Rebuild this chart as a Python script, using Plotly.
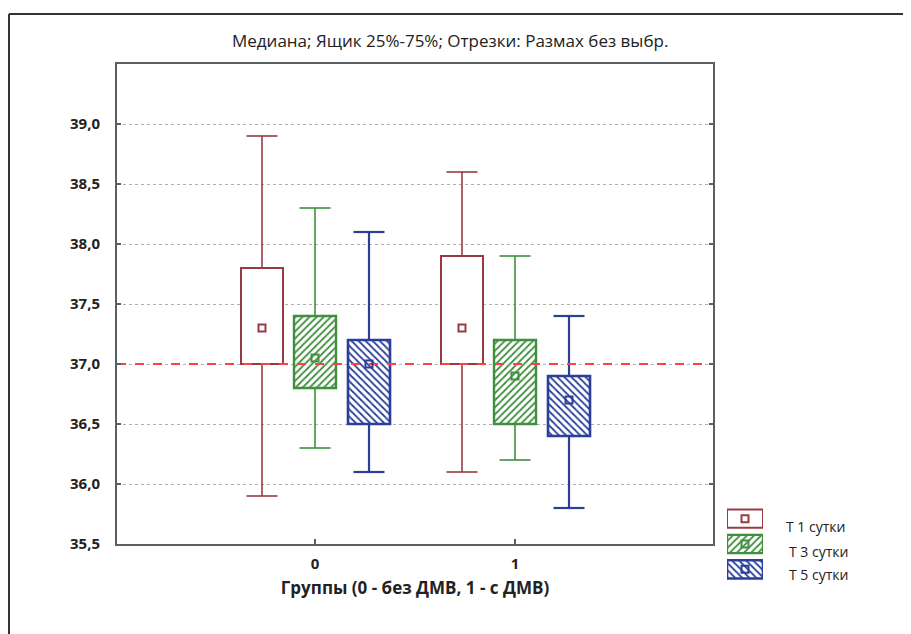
import plotly.graph_objects as go

# ---- data ----
groups = [0, 1]
series_names = ["T 1 сутки", "T 3 сутки", "T 5 сутки"]
# per series: values for group 0 and group 1
whisker_low = {"T 1 сутки": [35.9, 36.1], "T 3 сутки": [36.3, 36.2], "T 5 сутки": [36.1, 35.8]}
q1 = {"T 1 сутки": [37.0, 37.0], "T 3 сутки": [36.8, 36.5], "T 5 сутки": [36.5, 36.4]}
median = {"T 1 сутки": [37.3, 37.3], "T 3 сутки": [37.05, 36.9], "T 5 сутки": [37.0, 36.7]}
q3 = {"T 1 сутки": [37.8, 37.9], "T 3 сутки": [37.4, 37.2], "T 5 сутки": [37.2, 36.9]}
whisker_high = {"T 1 сутки": [38.9, 38.6], "T 3 сутки": [38.3, 37.9], "T 5 сутки": [38.1, 37.4]}
ref_value = 37.0
y_ticks = [35.5, 36.0, 36.5, 37.0, 37.5, 38.0, 38.5, 39.0]
y_tick_labels = ["35,5", "36,0", "36,5", "37,0", "37,5", "38,0", "38,5", "39,0"]

# ---- styles ----
colors = {"T 1 сутки": "#983b45", "T 3 сутки": "#3f8f3f", "T 5 сутки": "#2b3f98"}
patterns = {"T 1 сутки": "", "T 3 сутки": "/", "T 5 сутки": "\\"}
offsets = {"T 1 сутки": -0.265, "T 3 сутки": 0.0, "T 5 сутки": 0.27}
whisk_w = {"T 1 сутки": 1.6, "T 3 сутки": 1.6, "T 5 сутки": 2.2}
box_lw = {"T 1 сутки": 2.0, "T 3 сутки": 2.4, "T 5 сутки": 2.6}
box_w = 0.21
cap_w = 0.155
FONT = "Open Sans"

# page geometry (browser body margin = 8px)
OFF = 8
PL, PR, PT, PB = 117, 900, 64, 620          # paper extents in screenshot pixels
L, R, T, B = PL - OFF, 911 - (PR - OFF), PT - OFF, 634 - (PB - OFF)
PW, PH = PR - PL, PB - PT


def px_x(px):
    return (px - PL) / PW


def px_y(py):
    return (PB - py) / PH


fig = go.Figure()

for name in series_names:
    xs = [g + offsets[name] for g in groups]
    c = colors[name]
    wx, wy = [], []
    for i, x in enumerate(xs):
        wx += [x, x, None, x, x, None,
               x - cap_w / 2, x + cap_w / 2, None, x - cap_w / 2, x + cap_w / 2, None]
        wy += [whisker_low[name][i], q1[name][i], None, q3[name][i], whisker_high[name][i], None,
               whisker_low[name][i], whisker_low[name][i], None,
               whisker_high[name][i], whisker_high[name][i], None]
    fig.add_trace(go.Scatter(x=wx, y=wy, mode="lines", line=dict(color=c, width=whisk_w[name]),
                             showlegend=False, hoverinfo="skip"))
    heights = [q3[name][i] - q1[name][i] for i in range(len(groups))]
    fig.add_trace(go.Bar(
        x=xs, y=heights, base=q1[name], width=box_w, name=name, showlegend=False,
        marker=dict(color="white", line=dict(color=c, width=box_lw[name]),
                    pattern=dict(shape=patterns[name], fgcolor=c, bgcolor="white",
                                 size=5, solidity=0.35, fillmode="replace")),
    ))

fig.add_trace(go.Scatter(x=[-0.99, 1.99], y=[ref_value, ref_value], mode="lines",
                         line=dict(color="#ff4040", width=1.8, dash="dash"),
                         showlegend=False, hoverinfo="skip"))

for name in series_names:
    xs = [g + offsets[name] for g in groups]
    fig.add_trace(go.Scatter(x=xs, y=median[name], mode="markers",
                             marker=dict(symbol="square-open", size=7, color=colors[name],
                                         line=dict(width=2, color=colors[name])),
                             showlegend=False, hoverinfo="skip"))

# ---- legend keys drawn in a small second subplot ----
for i, name in enumerate(series_names):
    c = colors[name]
    fig.add_trace(go.Bar(
        x=[1], y=[i], base=[0], orientation="h", width=0.72, xaxis="x2", yaxis="y2",
        showlegend=False, hoverinfo="skip",
        marker=dict(color="white", line=dict(color=c, width=box_lw[name]),
                    pattern=dict(shape=patterns[name], fgcolor=c, bgcolor="white",
                                 size=5, solidity=0.35, fillmode="replace")),
    ))
    fig.add_trace(go.Scatter(
        x=[0.5], y=[i], mode="markers", xaxis="x2", yaxis="y2", showlegend=False,
        hoverinfo="skip",
        marker=dict(symbol="square-open", size=7, color=c, line=dict(width=2, color=c))))

legend_text_x = [784, 787, 787]
legend_text_y = [526, 551, 574]

annotations = [dict(text="Медиана; Ящик 25%-75%; Отрезки: Размах без выбр.",
                    xref="paper", yref="paper", x=px_x(450), y=px_y(40),
                    xanchor="center", yanchor="middle", showarrow=False,
                    font=dict(family=FONT, size=17, color="#222222"))]
for i, name in enumerate(series_names):
    annotations.append(dict(text=name, xref="paper", yref="paper",
                            x=px_x(legend_text_x[i]), y=px_y(legend_text_y[i]),
                            xanchor="left", yanchor="middle", showarrow=False,
                            font=dict(family=FONT, size=14, color="#222222")))

axis_col = "#5a5f62"
fig.update_layout(
    width=911, height=634,
    margin=dict(l=L, r=R, t=T, b=B, autoexpand=False),
    paper_bgcolor="white", plot_bgcolor="white",
    barmode="overlay",
    font=dict(family=FONT, color="#222222"),
    showlegend=False,
    xaxis=dict(domain=[0, px_x(713)], range=[-0.99, 1.99], tickvals=groups, ticktext=["0", "1"],
               showgrid=False, zeroline=False,
               showline=True, linecolor=axis_col, linewidth=2, mirror=True,
               ticks="inside", ticklen=5, tickwidth=2, tickcolor=axis_col,
               ticklabelstandoff=5,
               tickfont=dict(family=FONT, size=15, color="#222222", weight="bold"),
               title=dict(text="Группы (0 - без ДМВ, 1 - с ДМВ)",
                          font=dict(family=FONT, size=17, color="#222222", weight="bold"),
                          standoff=10)),
    yaxis=dict(domain=[px_y(544), 1], range=[35.5, 39.5], tickvals=y_ticks, ticktext=y_tick_labels,
               showgrid=True, gridcolor="#b0b0b0", griddash="dot", gridwidth=1,
               zeroline=False,
               showline=True, linecolor=axis_col, linewidth=2, mirror="ticks",
               ticks="inside", ticklen=4, tickwidth=2, tickcolor=axis_col,
               ticklabelstandoff=12,
               tickfont=dict(family=FONT, size=15, color="#222222", weight="bold")),
    xaxis2=dict(domain=[px_x(727), px_x(763)], range=[0, 1], visible=False,
                anchor="y2", fixedrange=True),
    yaxis2=dict(domain=[px_y(582), px_y(506)], range=[2.5, -0.5], visible=False,
                anchor="x2", fixedrange=True),
    annotations=annotations,
    shapes=[
        dict(type="line", xref="paper", yref="paper",
             x0=px_x(9), x1=px_x(925), y0=px_y(14), y1=px_y(14),
             line=dict(color="#333333", width=2)),
        dict(type="line", xref="paper", yref="paper",
             x0=px_x(9), x1=px_x(9), y0=px_y(14), y1=px_y(650),
             line=dict(color="#333333", width=2)),
    ],
)

fig.write_html("out.html")
